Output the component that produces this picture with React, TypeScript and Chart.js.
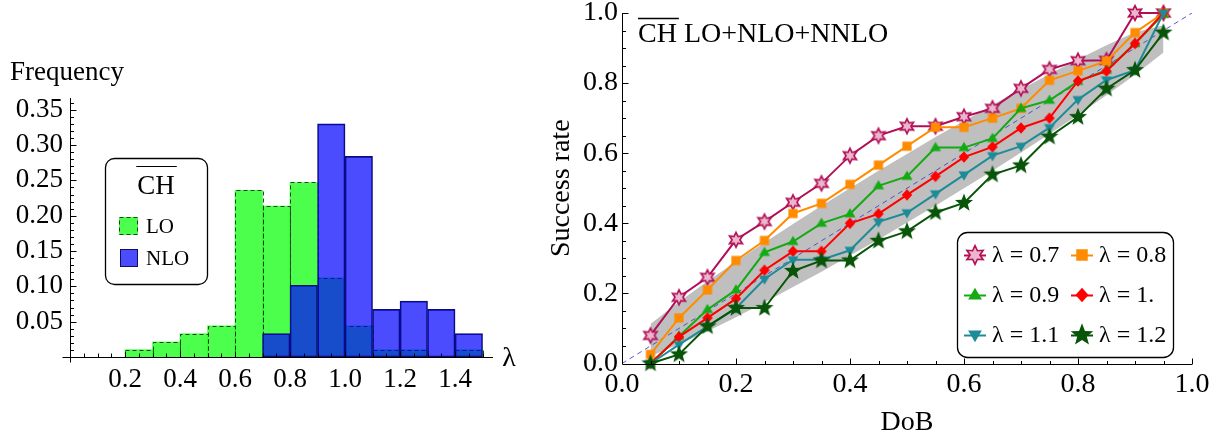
import React, { useEffect, useRef } from "react";
import { Chart, registerables } from "chart.js";

Chart.register(...registerables);

const FONT = '"Liberation Serif", "Times New Roman", Times, serif';

// ---------- Left panel: histogram of lambda ----------
const lambdaBins = [0.25, 0.35, 0.45, 0.55, 0.65, 0.75, 0.85, 0.95, 1.05, 1.15, 1.25, 1.35, 1.45];
const freqLO = [0.0104, 0.0213, 0.033, 0.044, 0.236, 0.2135, 0.247, 0.112, 0.044, 0.0104, 0.0104, null, 0.0104];
const freqNLO = [null, null, null, null, null, 0.033, 0.1016, 0.33, 0.284, 0.0675, 0.079, 0.0675, 0.033];
const histXTicks = [0.2, 0.4, 0.6, 0.8, 1.0, 1.2, 1.4];
const histYTicks = [0.05, 0.1, 0.15, 0.2, 0.25, 0.3, 0.35];
const histLegendTitle = "CH";
const histLegendLabels = ["LO", "NLO"];

// ---------- Right panel: success rate vs DoB ----------
const dob = [0.05, 0.1, 0.15, 0.2, 0.25, 0.3, 0.35, 0.4, 0.45, 0.5, 0.55, 0.6, 0.65, 0.7, 0.75, 0.8, 0.85, 0.9, 0.95];
const rate07 = [0.08, 0.189, 0.246, 0.353, 0.405, 0.46, 0.514, 0.593, 0.65, 0.677, 0.677, 0.704, 0.728, 0.785, 0.839, 0.864, 0.865, 1.0, 1.0];
const rate08 = [0.026, 0.13, 0.21, 0.294, 0.351, 0.428, 0.457, 0.511, 0.566, 0.62, 0.674, 0.674, 0.7, 0.728, 0.808, 0.835, 0.863, 0.944, 1.0];
const rate09 = [0.0, 0.078, 0.154, 0.21, 0.317, 0.348, 0.4, 0.427, 0.507, 0.534, 0.616, 0.616, 0.642, 0.728, 0.751, 0.805, 0.837, 0.913, 0.996];
const rate10 = [0.0, 0.076, 0.13, 0.185, 0.266, 0.32, 0.32, 0.4, 0.427, 0.481, 0.534, 0.589, 0.618, 0.672, 0.7, 0.806, 0.834, 0.913, 1.0];
const rate11 = [0.0, 0.054, 0.106, 0.158, 0.241, 0.296, 0.296, 0.323, 0.404, 0.43, 0.484, 0.538, 0.593, 0.62, 0.673, 0.753, 0.809, 0.837, 1.0];
const rate12 = [0.0, 0.026, 0.106, 0.158, 0.158, 0.264, 0.294, 0.294, 0.35, 0.377, 0.431, 0.458, 0.539, 0.565, 0.647, 0.703, 0.784, 0.837, 0.944];
const bandLower = [0.021, 0.055, 0.092, 0.132, 0.174, 0.218, 0.262, 0.308, 0.354, 0.402, 0.45, 0.5, 0.55, 0.602, 0.655, 0.709, 0.765, 0.824, 0.887];
const bandUpper = [0.113, 0.176, 0.235, 0.291, 0.345, 0.398, 0.45, 0.5, 0.55, 0.598, 0.646, 0.692, 0.738, 0.782, 0.826, 0.868, 0.908, 0.945, 0.965];
const diagX = [0, 1];
const diagY = [0, 1];
const rateTicks = [0, 0.2, 0.4, 0.6, 0.8, 1.0];
const seriesLabels = ["λ = 0.7", "λ = 0.8", "λ = 0.9", "λ = 1.", "λ = 1.1", "λ = 1.2"];
const rateTitleOver = "CH";
const rateTitleRest = " LO+NLO+NNLO";

const seriesRates = [rate07, rate08, rate09, rate10, rate11, rate12];
const seriesColors = ["rgb(178,14,86)", "rgb(255,140,0)", "rgb(20,170,20)", "rgb(255,0,0)", "rgb(30,140,152)", "rgb(8,84,8)"];
type MarkerKind = "star6" | "square" | "tri" | "diamond" | "triDown" | "star5";
const seriesMarkers: MarkerKind[] = ["star6", "square", "tri", "diamond", "triDown", "star5"];

function starPath(g: CanvasRenderingContext2D, cx: number, cy: number, n: number, ro: number, ri: number) {
  g.beginPath();
  for (let i = 0; i < 2 * n; i++) {
    const r = i % 2 === 0 ? ro : ri;
    const a = -Math.PI / 2 + (i * Math.PI) / n;
    const px = cx + r * Math.cos(a);
    const py = cy + r * Math.sin(a);
    if (i === 0) g.moveTo(px, py);
    else g.lineTo(px, py);
  }
  g.closePath();
}

function makeMarker(kind: MarkerKind, color: string, s: number): HTMLCanvasElement {
  const S = Math.ceil((30 * s) / 2) * 2;
  const c = document.createElement("canvas");
  c.width = S;
  c.height = S;
  const g = c.getContext("2d")!;
  const m = S / 2;
  g.fillStyle = color;
  g.strokeStyle = color;
  if (kind === "star6") {
    starPath(g, m, m, 6, 7.5 * s, 3.9 * s);
    g.fillStyle = "#eab7cc";
    g.fill();
    g.lineWidth = 1.6;
    g.stroke();
  } else if (kind === "square") {
    const h = 4.6 * s;
    g.fillRect(m - h, m - h, 2 * h, 2 * h);
  } else if (kind === "tri") {
    const r = 5.8 * s;
    g.beginPath();
    g.moveTo(m, m - r);
    g.lineTo(m + r * 0.95, m + r * 0.62);
    g.lineTo(m - r * 0.95, m + r * 0.62);
    g.closePath();
    g.fill();
  } else if (kind === "triDown") {
    const r = 5.8 * s;
    g.beginPath();
    g.moveTo(m, m + r);
    g.lineTo(m + r * 0.95, m - r * 0.62);
    g.lineTo(m - r * 0.95, m - r * 0.62);
    g.closePath();
    g.fill();
  } else if (kind === "diamond") {
    const r = 5.8 * s;
    g.beginPath();
    g.moveTo(m, m - r);
    g.lineTo(m + r * 0.9, m);
    g.lineTo(m, m + r);
    g.lineTo(m - r * 0.9, m);
    g.closePath();
    g.fill();
  } else {
    starPath(g, m, m, 5, 9.5 * s, 4 * s);
    g.fill();
  }
  return c;
}

function roundRect(ctx: CanvasRenderingContext2D, x: number, y: number, w: number, h: number, r: number) {
  ctx.beginPath();
  ctx.moveTo(x + r, y);
  ctx.lineTo(x + w - r, y);
  ctx.arcTo(x + w, y, x + w, y + r, r);
  ctx.lineTo(x + w, y + h - r);
  ctx.arcTo(x + w, y + h, x + w - r, y + h, r);
  ctx.lineTo(x + r, y + h);
  ctx.arcTo(x, y + h, x, y + h - r, r);
  ctx.lineTo(x, y + r);
  ctx.arcTo(x, y, x + r, y, r);
  ctx.closePath();
}

const LO_FILL = "rgba(0,255,0,0.7)";
const NLO_FILL = "rgba(0,0,255,0.7)";
const LO_EDGE = "rgba(20,50,20,0.9)";
const NLO_EDGE = "rgb(16,16,90)";

const histPlugin = {
  id: "histDecor",
  afterDatasetDraw(chart: any, args: any) {
    if (args.index !== 1) return;
    const ctx = chart.ctx as CanvasRenderingContext2D;
    ctx.save();
    ctx.setLineDash([4, 3]);
    ctx.strokeStyle = LO_EDGE;
    ctx.lineWidth = 1;
    args.meta.data.forEach((el: any, i: number) => {
      if (freqLO[i] == null) return;
      const p = el.getProps(["x", "y", "base", "width"], true);
      const l = Math.round(p.x - p.width / 2) + 0.5;
      const r = Math.round(p.x + p.width / 2) + 0.5;
      const t = Math.round(p.y) + 0.5;
      const b = Math.round(p.base) + 0.5;
      ctx.beginPath();
      ctx.moveTo(l, b);
      ctx.lineTo(l, t);
      ctx.lineTo(r, t);
      ctx.lineTo(r, b);
      ctx.stroke();
    });
    ctx.restore();
  },
  afterDraw(chart: any) {
    const ctx = chart.ctx as CanvasRenderingContext2D;
    const xs = chart.scales.x;
    const ys = chart.scales.y;
    const ax = Math.round(xs.getPixelForValue(0)) + 0.5;
    const ay = Math.round(ys.getPixelForValue(0)) + 0.5;
    const right = xs.right;
    const top = ys.top;
    ctx.save();
    ctx.strokeStyle = "#000";
    ctx.lineWidth = 1;
    ctx.setLineDash([]);
    ctx.beginPath();
    ctx.moveTo(ax - 8, ay);
    ctx.lineTo(right, ay);
    ctx.moveTo(ax, ay + 5);
    ctx.lineTo(ax, top);
    for (let k = 1; k * 0.05 <= 1.52; k++) {
      const v = k * 0.05;
      const major = k % 4 === 0;
      const px = Math.round(xs.getPixelForValue(v)) + 0.5;
      ctx.moveTo(px, ay);
      ctx.lineTo(px, ay - (major ? 6 : 4));
    }
    for (let k = 1; k * 0.01 <= 0.366; k++) {
      const v = k * 0.01;
      const major = k % 5 === 0;
      const py = Math.round(ys.getPixelForValue(v)) + 0.5;
      ctx.moveTo(ax, py);
      ctx.lineTo(ax + (major ? 6 : 3.5), py);
    }
    ctx.stroke();

    ctx.fillStyle = "#000";
    ctx.font = `27px ${FONT}`;
    ctx.textAlign = "left";
    ctx.textBaseline = "alphabetic";
    ctx.fillText("Frequency", 10, 80);
    ctx.font = `28px ${FONT}`;
    ctx.textAlign = "center";
    ctx.textBaseline = "middle";
    ctx.fillText("λ", 509, 359);

    // legend
    ctx.lineWidth = 1.3;
    roundRect(ctx, 105.5, 158.5, 102, 126, 9);
    ctx.fillStyle = "#fff";
    ctx.fill();
    ctx.stroke();
    ctx.fillStyle = "#000";
    ctx.font = `27px ${FONT}`;
    ctx.textAlign = "center";
    ctx.textBaseline = "alphabetic";
    ctx.fillText(histLegendTitle, 156, 194);
    const tw = ctx.measureText(histLegendTitle).width;
    ctx.beginPath();
    ctx.lineWidth = 1.2;
    ctx.moveTo(156 - tw / 2 - 1, 166.5);
    ctx.lineTo(156 + tw / 2 + 2, 166.5);
    ctx.stroke();

    ctx.fillStyle = LO_FILL;
    ctx.fillRect(119, 217, 19, 18);
    ctx.setLineDash([4, 3]);
    ctx.strokeStyle = LO_EDGE;
    ctx.lineWidth = 1;
    ctx.strokeRect(119.5, 217.5, 18, 17);
    ctx.setLineDash([]);
    ctx.fillStyle = NLO_FILL;
    ctx.fillRect(120, 249, 18, 18);
    ctx.strokeStyle = NLO_EDGE;
    ctx.strokeRect(120.5, 249.5, 17, 17);

    ctx.fillStyle = "#000";
    ctx.font = `21px ${FONT}`;
    ctx.textAlign = "left";
    ctx.fillText(histLegendLabels[0], 146, 233);
    ctx.fillText(histLegendLabels[1], 146, 265);
    ctx.restore();
  },
};

let legendMarkers: HTMLCanvasElement[] = [];

const ratePlugin = {
  id: "rateDecor",
  afterDraw(chart: any) {
    const ctx = chart.ctx as CanvasRenderingContext2D;
    const xs = chart.scales.x;
    const ys = chart.scales.y;
    const ax = Math.round(xs.getPixelForValue(0)) + 0.5;
    const ay = Math.round(ys.getPixelForValue(0)) + 0.5;
    const x1 = xs.getPixelForValue(1);
    const y1 = ys.getPixelForValue(1);
    ctx.save();
    ctx.strokeStyle = "#000";
    ctx.lineWidth = 1;
    ctx.setLineDash([]);
    ctx.beginPath();
    ctx.moveTo(ax, ay);
    ctx.lineTo(x1, ay);
    ctx.moveTo(ax, ay);
    ctx.lineTo(ax, y1);
    for (let k = 1; k <= 20; k++) {
      const v = k * 0.05;
      const major = k % 4 === 0;
      const px = Math.round(xs.getPixelForValue(v)) + 0.5;
      ctx.moveTo(px, ay);
      ctx.lineTo(px, ay - (major ? 6 : 3.5));
      const py = Math.round(ys.getPixelForValue(v)) + 0.5;
      ctx.moveTo(ax, py);
      ctx.lineTo(ax + (major ? 6 : 3.5), py);
    }
    ctx.stroke();

    // title
    ctx.fillStyle = "#000";
    ctx.font = `28px ${FONT}`;
    ctx.textAlign = "left";
    ctx.textBaseline = "alphabetic";
    const tx = 98;
    const tb = 42;
    ctx.fillText(rateTitleOver, tx, tb);
    const w1 = ctx.measureText(rateTitleOver).width;
    ctx.fillText(rateTitleRest, tx + w1, tb);
    ctx.beginPath();
    ctx.lineWidth = 1.3;
    ctx.moveTo(tx, 18.5);
    ctx.lineTo(tx + w1 + 2, 18.5);
    ctx.stroke();

    // legend
    const bx = 417.5, by = 232.5, bw = 216, bh = 125;
    ctx.lineWidth = 1.3;
    roundRect(ctx, bx, by, bw, bh, 10);
    ctx.fillStyle = "#fff";
    ctx.fill();
    ctx.stroke();
    const colX = [435, 542];
    const rowY = [255, 295, 335];
    ctx.font = `24px ${FONT}`;
    ctx.textBaseline = "middle";
    ctx.textAlign = "left";
    seriesLabels.forEach((lab, i) => {
      const cx = colX[i % 2];
      const cy = rowY[Math.floor(i / 2)];
      ctx.strokeStyle = seriesColors[i];
      ctx.lineWidth = 2;
      ctx.beginPath();
      ctx.moveTo(cx - 11, cy + 0.5);
      ctx.lineTo(cx + 11, cy + 0.5);
      ctx.stroke();
      const mk = legendMarkers[i];
      if (mk) ctx.drawImage(mk, cx - mk.width / 2, cy - mk.height / 2);
      ctx.fillStyle = "#000";
      ctx.fillText(lab, cx + 17, cy + 1);
    });
    ctx.restore();
  },
};

function zeroPad(s: any) {
  s.paddingLeft = 0;
  s.paddingRight = 0;
  s.paddingTop = 0;
  s.paddingBottom = 0;
}

export default function App() {
  const leftRef = useRef<HTMLCanvasElement>(null);
  const rightRef = useRef<HTMLCanvasElement>(null);

  useEffect(() => {
    Chart.defaults.font.family = FONT;
    Chart.defaults.color = "#000";

    const hist = new Chart(leftRef.current!, {
      type: "bar",
      data: {
        datasets: [
          {
            label: "NLO",
            data: lambdaBins.map((x, i) => ({ x, y: freqNLO[i] })),
            backgroundColor: NLO_FILL,
            borderColor: NLO_EDGE,
            borderWidth: 1,
            borderSkipped: false,
            grouped: false,
            barPercentage: 1,
            categoryPercentage: 1,
            order: 0,
          } as any,
          {
            label: "LO",
            data: lambdaBins.map((x, i) => ({ x, y: freqLO[i] })),
            backgroundColor: LO_FILL,
            borderWidth: 0,
            grouped: false,
            barPercentage: 1,
            categoryPercentage: 1,
            order: 1,
          } as any,
        ],
      },
      options: {
        animation: false,
        responsive: false,
        events: [],
        layout: { padding: { left: 0, top: 98, right: 47, bottom: 0 } },
        plugins: { legend: { display: false }, tooltip: { enabled: false } },
        scales: {
          x: {
            type: "linear",
            offset: false,
            min: 0,
            max: 1.538,
            grid: { display: false, drawTicks: false },
            border: { display: false },
            afterBuildTicks: (s: any) => {
              s.ticks = histXTicks.map((v) => ({ value: v }));
            },
            afterFit: (s: any) => {
              s.height = 84;
              zeroPad(s);
            },
            ticks: {
              padding: 7,
              color: "#000",
              maxRotation: 0,
              autoSkip: false,
              font: { family: FONT, size: 27 },
              callback: (v: any) => Number(v).toFixed(1),
            },
          },
          y: {
            type: "linear",
            min: 0,
            max: 0.3666,
            grid: { display: false, drawTicks: false },
            border: { display: false },
            afterBuildTicks: (s: any) => {
              s.ticks = histYTicks.map((v) => ({ value: v }));
            },
            afterFit: (s: any) => {
              s.width = 70;
              zeroPad(s);
            },
            ticks: {
              padding: 7,
              color: "#000",
              autoSkip: false,
              font: { family: FONT, size: 27 },
              callback: (v: any) => Number(v).toFixed(2),
            },
          },
        },
      } as any,
      plugins: [histPlugin],
    });

    const plotMarkers = seriesMarkers.map((k, i) => makeMarker(k, seriesColors[i], 1));
    legendMarkers = seriesMarkers.map((k, i) => makeMarker(k, seriesColors[i], 1.25));

    const rateSets: any[] = seriesRates.map((arr, i) => ({
      label: seriesLabels[i],
      data: dob.map((x, j) => ({ x, y: arr[j] })),
      borderColor: seriesColors[i],
      backgroundColor: seriesColors[i],
      borderWidth: 2,
      pointStyle: plotMarkers[i],
      pointRadius: 5,
      fill: false,
      clip: false,
      order: 6 - i,
    }));

    const rate = new Chart(rightRef.current!, {
      type: "line",
      data: {
        datasets: [
          {
            label: "band-low",
            data: dob.map((x, j) => ({ x, y: bandLower[j] })),
            borderColor: "rgba(0,0,0,0)",
            borderWidth: 0,
            pointRadius: 0,
            fill: false,
            order: 10,
          },
          {
            label: "band-high",
            data: dob.map((x, j) => ({ x, y: bandUpper[j] })),
            borderColor: "rgba(0,0,0,0)",
            borderWidth: 0,
            backgroundColor: "rgb(191,191,191)",
            pointRadius: 0,
            fill: "-1",
            order: 10,
          },
          {
            label: "diag",
            data: diagX.map((x, j) => ({ x, y: diagY[j] })),
            borderColor: "rgba(70,70,200,0.9)",
            borderWidth: 1,
            borderDash: [5, 4],
            pointRadius: 0,
            fill: false,
            order: 9,
          },
          ...rateSets,
        ],
      },
      options: {
        animation: false,
        responsive: false,
        events: [],
        layout: { padding: { left: 0, top: 13, right: 30, bottom: 0 } },
        plugins: { legend: { display: false }, tooltip: { enabled: false } },
        scales: {
          x: {
            type: "linear",
            offset: false,
            min: 0,
            max: 1,
            grid: { display: false, drawTicks: false },
            border: { display: false },
            afterBuildTicks: (s: any) => {
              s.ticks = rateTicks.map((v) => ({ value: v }));
            },
            afterFit: (s: any) => {
              s.height = 77.5;
              zeroPad(s);
            },
            ticks: {
              padding: 4,
              color: "#000",
              maxRotation: 0,
              autoSkip: false,
              font: { family: FONT, size: 28 },
              callback: (v: any) => Number(v).toFixed(1),
            },
            title: {
              display: true,
              text: "DoB",
              color: "#000",
              font: { family: FONT, size: 28 },
              padding: { top: 0, bottom: 2 },
            },
          },
          y: {
            type: "linear",
            min: 0,
            max: 1,
            grid: { display: false, drawTicks: false },
            border: { display: false },
            afterBuildTicks: (s: any) => {
              s.ticks = rateTicks.map((v) => ({ value: v }));
            },
            afterFit: (s: any) => {
              s.width = 82;
              zeroPad(s);
            },
            ticks: {
              padding: 4,
              color: "#000",
              autoSkip: false,
              font: { family: FONT, size: 28 },
              callback: (v: any) => Number(v).toFixed(1),
            },
            title: {
              display: true,
              text: "Success rate",
              color: "#000",
              font: { family: FONT, size: 28 },
              padding: { top: 5, bottom: 0 },
            },
          },
        },
      } as any,
      plugins: [ratePlugin],
    });

    return () => {
      hist.destroy();
      rate.destroy();
    };
  }, []);

  return (
    <div style={{ position: "fixed", left: 0, top: 0, width: 1222, height: 441, background: "#fff" }}>
      <canvas
        ref={leftRef}
        width={540}
        height={441}
        style={{ position: "absolute", left: 0, top: 0, width: 540, height: 441 }}
      />
      <canvas
        ref={rightRef}
        width={682}
        height={441}
        style={{ position: "absolute", left: 540, top: 0, width: 682, height: 441 }}
      />
    </div>
  );
}
